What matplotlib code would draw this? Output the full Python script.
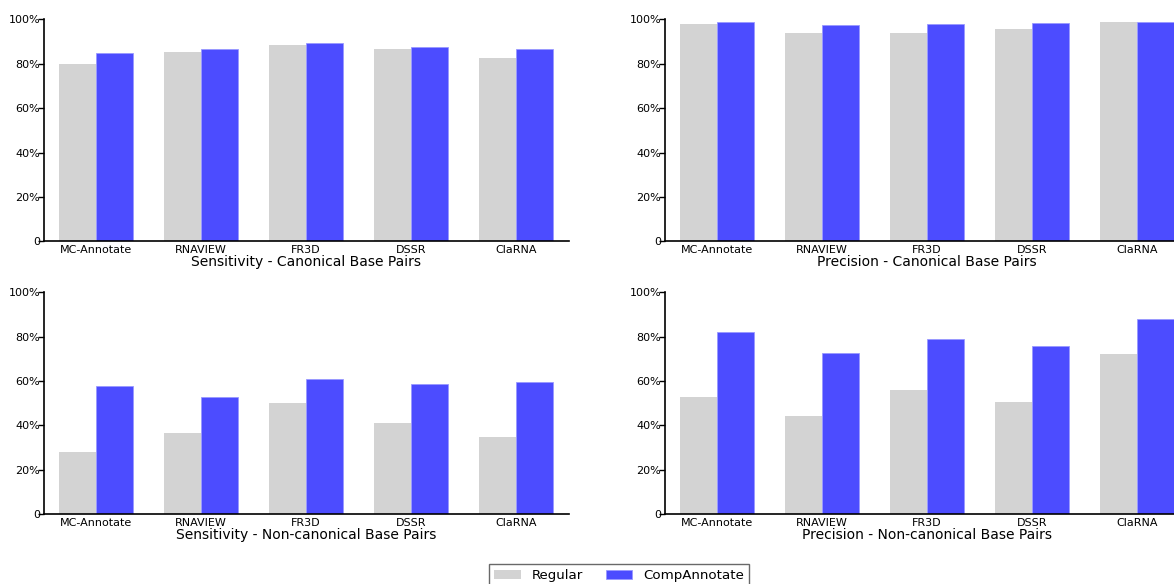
import matplotlib
matplotlib.use("Agg")
import matplotlib.pyplot as plt
import numpy as np
from matplotlib.ticker import FuncFormatter

tools = ["MC-Annotate", "RNAVIEW", "FR3D", "DSSR", "ClaRNA"]

sens_can_regular = [79.9, 85.4, 88.6, 86.7, 82.6]
sens_can_comp = [84.8, 86.6, 89.1, 87.7, 86.7]
prec_can_regular = [97.9, 93.8, 94.0, 95.5, 98.8]
prec_can_comp = [98.9, 97.3, 97.7, 98.5, 98.9]
sens_non_regular = [27.9, 36.5, 50.2, 41.1, 34.7]
sens_non_comp = [57.6, 53.0, 60.8, 58.9, 59.6]
prec_non_regular = [53.0, 44.1, 55.9, 50.5, 72.4]
prec_non_comp = [82.3, 72.7, 78.8, 75.7, 87.8]

titles = ["Sensitivity - Canonical Base Pairs", "Precision - Canonical Base Pairs",
          "Sensitivity - Non-canonical Base Pairs", "Precision - Non-canonical Base Pairs"]
series = [(sens_can_regular, sens_can_comp), (prec_can_regular, prec_can_comp),
          (sens_non_regular, sens_non_comp), (prec_non_regular, prec_non_comp)]

W, H = 1174, 584
fig = plt.figure(figsize=(W / 100, H / 100), dpi=100)

lefts = [43.5, 664.5, 43.5, 664.5]
zeros = [241.3, 241.3, 514.3, 514.3]
aw, ah = 525, 222

gray = "#d3d3d3"
blue = (0.0, 0.0, 1.0, 0.7)
bw = 0.35
x = np.arange(len(tools))

fmt = FuncFormatter(lambda v, p: "0" if v == 0 else f"{int(v)}%")

axes = []
for i in range(4):
    ax = fig.add_axes([lefts[i] / W, (H - zeros[i]) / H, aw / W, ah / H])
    reg, comp = series[i]
    ax.bar(x - bw / 2, reg, width=bw, color=gray, edgecolor="none", label="Regular")
    ax.bar(x + bw / 2, comp, width=bw, color=blue, edgecolor=(0.6, 0.6, 1.0), linewidth=0.6,
           label="CompAnnotate")
    ax.set_xlim(-0.5, 4.5)
    ax.set_ylim(0, 100)
    ax.set_yticks([0, 20, 40, 60, 80, 100])
    ax.yaxis.set_major_formatter(fmt)
    ax.set_xticks(x)
    ax.set_xticklabels(tools, fontsize=8)
    ax.tick_params(axis="x", length=0, pad=3)
    ax.tick_params(axis="y", length=4, width=1, labelsize=8, pad=-1.5, direction="out")
    for s in ["top", "right"]:
        ax.spines[s].set_visible(False)
    for s in ["left", "bottom"]:
        ax.spines[s].set_linewidth(1.2)
    ax.set_xlabel(titles[i], fontsize=10, labelpad=0)
    axes.append(ax)

h, l = axes[0].get_legend_handles_labels()
fig.legend(h, l, loc="upper center", bbox_to_anchor=(619 / W, (H - 564) / H), ncol=2,
           fontsize=9.6, frameon=True, fancybox=False, edgecolor="#444444",
           borderaxespad=0, columnspacing=1.7, borderpad=0.4)

fig.savefig("out.png", dpi=100)
